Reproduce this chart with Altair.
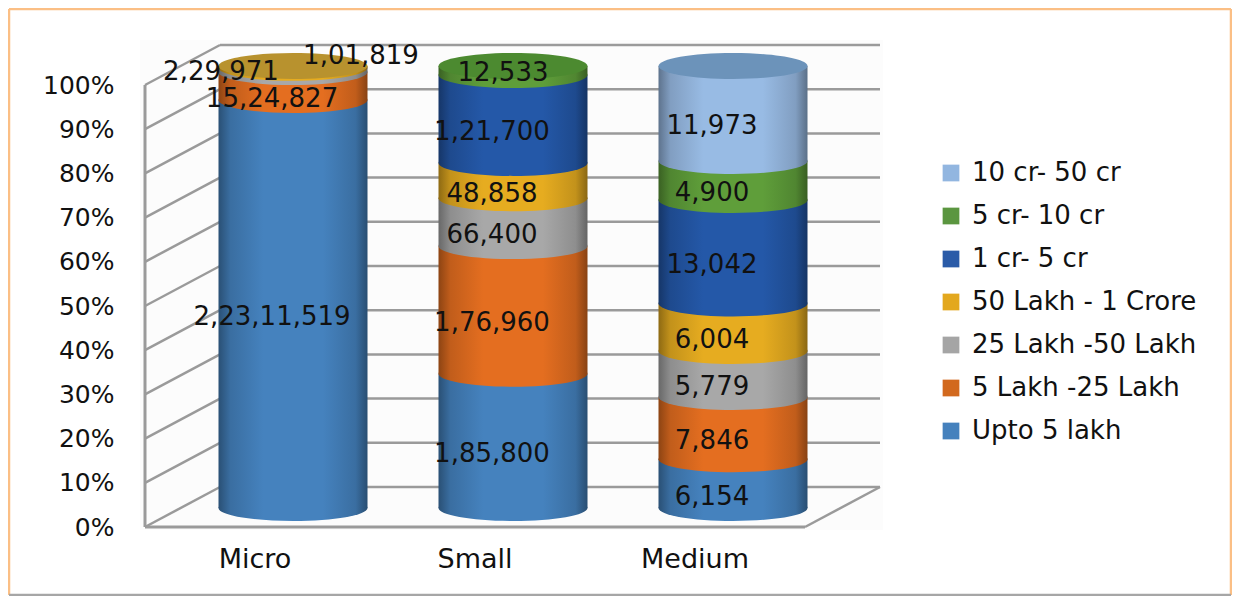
import altair as alt
import pandas as pd

categories = ["Micro", "Small", "Medium"]
series_names = ["Upto 5 lakh", "5 Lakh -25 Lakh", "25 Lakh -50 Lakh", "50 Lakh - 1 Crore",
                "1 cr- 5 cr", "5 cr- 10 cr", "10 cr- 50 cr"]
upto5 = [22311519, 185800, 6154]
l5_25 = [1524827, 176960, 7846]
l25_50 = [229971, 66400, 5779]
l50_1c = [101819, 48858, 6004]
c1_5 = [None, 121700, 13042]
c5_10 = [None, 12533, 4900]
c10_50 = [None, None, 11973]
series_values = [upto5, l5_25, l25_50, l50_1c, c1_5, c5_10, c10_50]
label_text = {
    22311519: "2,23,11,519", 1524827: "15,24,827", 229971: "2,29,971", 101819: "1,01,819",
    185800: "1,85,800", 176960: "1,76,960", 66400: "66,400", 48858: "48,858",
    121700: "1,21,700", 12533: "12,533", 6154: "6,154", 7846: "7,846", 5779: "5,779",
    6004: "6,004", 13042: "13,042", 4900: "4,900", 11973: "11,973",
}
base_colors = ["#4582BE", "#E46E20", "#A8A8A8", "#E6AC20", "#2458A8", "#5F9E3A", "#98BBE4"]
legend_colors = ["#4581BD", "#D2691E", "#A5A5A5", "#E3A81E", "#2A5BA8", "#5B9640", "#92B6E0"]
top_colors = {"Micro": "#B8922E", "Small": "#4C8A30", "Medium": "#6C93BA"}
pct_ticks = [0, 10, 20, 30, 40, 50, 60, 70, 80, 90, 100]

FONT = "DejaVu Sans"
BAR_SHIFT = 4.3     # depth of the cylinders, in percent units on the y scale
WALL_SHIFT = 9.05   # depth of the back wall, in percent units on the y scale
LABEL_SHIFT = 1.36
W, H = 735, 482
LEFT, TOP = 137, 37
TOTAL_W, TOTAL_H = 1224, 588
FLOOR_W, DEPTH_X = 660, 75
ELLIPSE = ("M -1 0 C -1 -0.0964 -0.552 -0.1745 0 -0.1745 C 0.552 -0.1745 1 -0.0964 1 0 "
           "C 1 0.0964 0.552 0.1745 0 0.1745 C -0.552 0.1745 -1 0.0964 -1 0 Z")


def shade(hex_color, f):
    r, g, b = (int(hex_color[i:i + 2], 16) for i in (1, 3, 5))
    return "#%02x%02x%02x" % (int(r * f), int(g * f), int(b * f))


def grad(c):
    stops = [(0, 0.62), (0.08, 0.85), (0.3, 1.0), (0.7, 1.0), (0.92, 0.85), (1, 0.6)]
    return alt.Gradient(gradient="linear", x1=0, x2=1, y1=0, y2=0,
                        stops=[alt.GradientStop(color=shade(c, f), offset=o) for o, f in stops])


rows = []
for ci, cat in enumerate(categories):
    total = sum(v[ci] for v in series_values if v[ci] is not None)
    cum = 0.0
    for si, name in enumerate(series_names):
        v = series_values[si][ci]
        if v is None:
            continue
        pct = v / total * 100
        rows.append({"cat": cat, "series": name, "si": si, "value": v, "text": label_text[v],
                     "lo": cum + BAR_SHIFT, "hi": cum + pct + BAR_SHIFT,
                     "mid": cum + pct / 2 + LABEL_SHIFT})
        cum += pct
df = pd.DataFrame(rows)

xenc = alt.X("cat:N", sort=categories, title=None,
             scale=alt.Scale(range=[38, 698], paddingInner=0, paddingOuter=0),
             axis=alt.Axis(labelAngle=0, ticks=False, domain=False, labelOffset=-38, labelPadding=19,
                           labelFontSize=27, labelFont=FONT, labelColor="#111111", grid=False))
yscale = alt.Scale(domain=[0, 100 + WALL_SHIFT], nice=False)
yaxis = alt.Axis(values=pct_ticks, labelExpr="datum.value + '%'", ticks=False, domain=False, grid=False,
                 labelPadding=31, labelFontSize=25, labelFont=FONT, labelColor="#111111")
def Y(f):
    return alt.Y(f, scale=yscale, axis=yaxis, title=None)

ticks = pd.DataFrame({"p": pct_ticks})
ticks["w"] = ticks["p"] + WALL_SHIFT
one = pd.DataFrame({"p": [0.0], "w": [WALL_SHIFT], "top": [100.0]})
GRID = "#9A9A9A"

bg = alt.Chart(one).mark_rect(color="#FCFCFC").encode(
    x=alt.value(-5), x2=alt.value(W + 3), y=alt.value(-5), y2=alt.value(H + 3))
back = alt.Chart(ticks).mark_rule(color=GRID, strokeWidth=2.5).encode(
    x=alt.value(DEPTH_X), x2=alt.value(W), y=Y("w:Q"))
side = alt.Chart(ticks).mark_rule(color=GRID, strokeWidth=2.5).encode(
    x=alt.value(0), x2=alt.value(DEPTH_X), y=Y("p:Q"), y2=alt.Y2("w:Q"))
wall_left = alt.Chart(one).mark_rule(color=GRID, strokeWidth=3).encode(
    x=alt.value(0), y=Y("p:Q"), y2=alt.Y2("top:Q"))
floor_front = alt.Chart(one).mark_rule(color=GRID, strokeWidth=3).encode(
    x=alt.value(0), x2=alt.value(FLOOR_W), y=Y("p:Q"))
floor_side = alt.Chart(one).mark_rule(color=GRID, strokeWidth=2.5).encode(
    x=alt.value(FLOOR_W), x2=alt.value(W), y=Y("p:Q"), y2=alt.Y2("w:Q"))

layers = [bg, back, side, wall_left, floor_front, floor_side]

for si, name in enumerate(series_names):
    d = df[df.si == si]
    c = base_colors[si]
    layers.append(alt.Chart(d).mark_point(filled=True, shape=ELLIPSE, size=22201, opacity=1,
                                          fill=grad(c), strokeWidth=0).encode(x=xenc, y=Y("lo:Q")))
    layers.append(alt.Chart(d).mark_bar(size=149, color=grad(c)).encode(
        x=xenc, y=Y("lo:Q"), y2=alt.Y2("hi:Q")))

tops = df.sort_values("si").groupby("cat", as_index=False).last()
for cat in categories:
    d = tops[tops.cat == cat]
    layers.append(alt.Chart(d).mark_point(filled=True, shape=ELLIPSE, size=22201, opacity=1,
                                          fill=top_colors[cat], strokeWidth=0).encode(x=xenc, y=Y("hi:Q")))

# legend, from a layer that draws nothing itself
leg_df = pd.DataFrame({"cat": ["Micro"] * 7, "series": series_names, "p": [0] * 7})
legend_layer = alt.Chart(leg_df).mark_square(size=0).encode(
    x=xenc, y=Y("p:Q"),
    color=alt.Color("series:N",
                    scale=alt.Scale(domain=series_names[::-1], range=legend_colors[::-1]),
                    legend=alt.Legend(title=None, orient="none", legendX=793, legendY=115,
                                      symbolType="square", symbolSize=280, symbolStrokeWidth=0,
                                      symbolOpacity=1, labelFontSize=26, labelFont=FONT,
                                      labelColor="#111111", rowPadding=17, labelOffset=8,
                                      labelLimit=400)))
layers.append(legend_layer)

# data labels; three of them sit beside their thin segments
moved = {101819: (68, -24), 229971: (-72, -11), 12533: (-10, -11)}
plain = df[~df.value.isin(list(moved))]
text_kw = dict(font=FONT, fontSize=26, color="#111111", baseline="middle", align="center")
layers.append(alt.Chart(plain).mark_text(dx=-21, **text_kw).encode(x=xenc, y=Y("mid:Q"), text="text:N"))
for val, (dx, dy) in moved.items():
    layers.append(alt.Chart(df[df.value == val]).mark_text(dx=dx, dy=dy, **text_kw).encode(
        x=xenc, y=Y("mid:Q"), text="text:N"))

# frame
FX0, FX1 = -LEFT + 1, TOTAL_W - LEFT - 1
FY0, FY1 = -TOP + 1, 595 - 45
frame = pd.DataFrame({"p": [0]})
for (x0, x1, y0, y1, col) in [(FX0, FX1, FY0, FY0, "#FBBF85"), (FX0, FX0, FY0, FY1, "#FBBF85"),
                              (FX1, FX1, FY0, FY1, "#FBBF85"), (FX0, FX1, FY1, FY1, "#A6A6A6")]:
    layers.append(alt.Chart(frame).mark_rule(color=col, strokeWidth=2.5).encode(
        x=alt.value(x0), x2=alt.value(x1), y=alt.value(y0), y2=alt.value(y1)))

chart = alt.layer(*layers).resolve_scale(x="shared", y="shared").properties(
    width=W, height=H, background="white",
    autosize=alt.AutoSizeParams(type="none"),
    padding={"left": LEFT, "top": TOP, "right": TOTAL_W - LEFT - W, "bottom": TOTAL_H - TOP - H},
).configure_view(stroke=None)

chart.save("out.html", embed_options={"renderer": "svg", "actions": False})
